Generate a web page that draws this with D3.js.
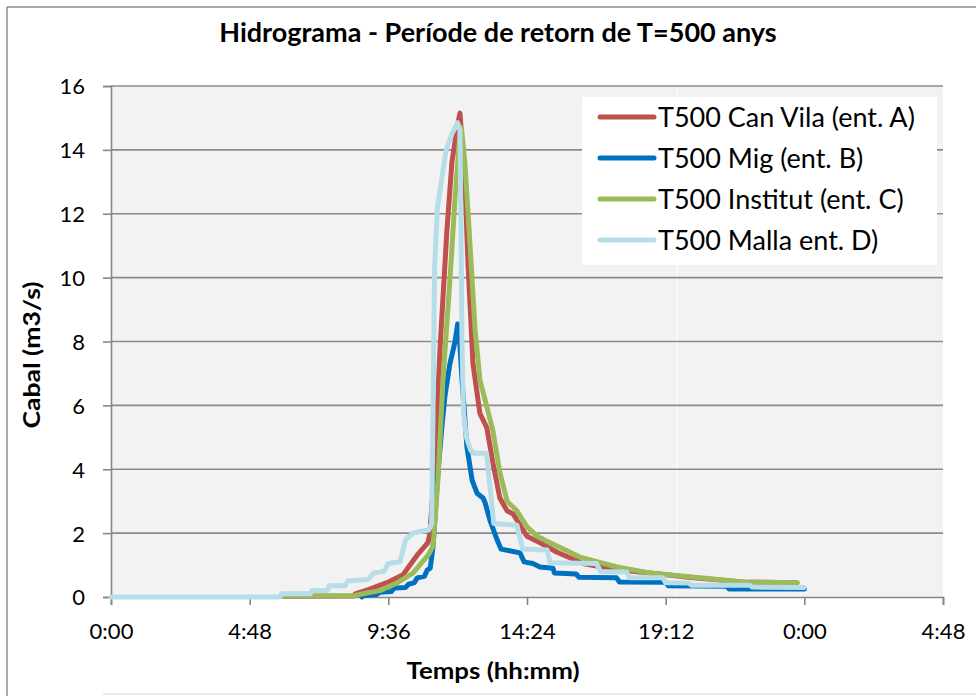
<!DOCTYPE html>
<html><head><meta charset="utf-8">
<script src="https://cdn.jsdelivr.net/npm/d3@7"></script>
<style>body{margin:0;background:#fff}svg{display:block;font-family:Lato,"Open Sans",sans-serif}</style>
</head><body><svg id="c" width="976" height="696"></svg>
<script>
// Data (time in hours, flow in m3/s)
const seriesNames = ["T500 Can Vila (ent. A)", "T500 Mig (ent. B)", "T500 Institut (ent. C)", "T500 Malla ent. D)"];
const seriesColors = ["#c0504d", "#0070c0", "#9bbb59", "#b7dde8"];
const xTickValues = [0, 4.8, 9.6, 14.4, 19.2, 24, 28.8];
const xTickLabels = ["0:00", "4:48", "9:36", "14:24", "19:12", "0:00", "4:48"];
const yTickValues = [0, 2, 4, 6, 8, 10, 12, 14, 16];

const canVila = [[5.9,0.02],[8.4,0.03],[8.45,0.1],[8.96,0.25],[9.55,0.45],[10.11,0.7],[10.59,1.3],[10.97,1.7],[11.04,2.0],[11.21,4.2],[11.39,7.8],[11.63,11.5],[11.8,13.6],[11.98,14.7],[12.08,15.15],[12.25,13.0],[12.36,10.4],[12.53,7.3],[12.77,5.75],[13.01,5.3],[13.22,4.2],[13.46,3.1],[13.71,2.7],[13.92,2.6],[14.4,1.9],[14.85,1.7],[15.44,1.4],[16.34,1.05],[17.51,0.85],[18.66,0.75],[20.15,0.6],[21.88,0.47],[23.75,0.45]];
const mig = [[8.69,0],[8.75,0.05],[9.2,0.08],[9.3,0.15],[9.7,0.17],[9.8,0.28],[10.2,0.3],[10.3,0.4],[10.5,0.45],[10.6,0.6],[10.85,0.65],[10.95,0.85],[11.05,0.9],[11.15,1.6],[11.3,3.7],[11.45,5.3],[11.56,6.3],[11.73,7.3],[11.91,8.0],[12.0,8.55],[12.05,8.3],[12.15,6.8],[12.32,4.7],[12.5,3.66],[12.67,3.25],[12.88,3.1],[12.95,2.95],[13.12,2.4],[13.36,1.8],[13.5,1.5],[13.8,1.45],[14.16,1.38],[14.3,1.1],[14.6,1.05],[14.85,0.94],[15.3,0.9],[15.35,0.75],[16.1,0.72],[16.2,0.62],[17.5,0.6],[17.6,0.47],[19.2,0.46],[19.3,0.35],[21.3,0.34],[21.4,0.25],[24.0,0.25]];
const institut = [[5.92,0.03],[8.45,0.05],[8.72,0.1],[9.31,0.2],[9.9,0.44],[10.45,0.75],[10.97,1.3],[11.15,1.6],[11.32,3.7],[11.49,6.8],[11.73,9.9],[11.91,12.5],[12.08,14.5],[12.13,14.7],[12.25,13.6],[12.43,11.0],[12.6,8.4],[12.77,6.8],[13.01,5.95],[13.22,5.2],[13.46,3.9],[13.71,3.0],[14.05,2.7],[14.4,2.2],[14.75,1.9],[15.2,1.7],[16.23,1.25],[17.51,0.94],[18.66,0.75],[20.39,0.6],[21.88,0.47],[23.75,0.45]];
const malla = [[0,0],[5.85,0],[5.9,0.1],[6.9,0.1],[6.95,0.2],[7.5,0.2],[7.55,0.35],[8.1,0.35],[8.2,0.5],[8.9,0.55],[9.1,0.75],[9.45,0.8],[9.6,1.05],[10.0,1.1],[10.2,1.8],[10.45,2.0],[10.7,2.05],[11.0,2.1],[11.1,2.3],[11.15,6],[11.2,10.3],[11.3,12.2],[11.45,13.1],[11.6,14.0],[11.8,14.5],[12.0,14.85],[12.08,14.6],[12.12,11],[12.15,8],[12.2,5.8],[12.3,5.0],[12.45,4.6],[12.55,4.5],[13.0,4.5],[13.25,2.3],[14.05,2.25],[14.25,1.5],[15.1,1.47],[15.2,1.07],[16.8,1.05],[16.95,0.8],[17.85,0.78],[17.95,0.6],[19.1,0.6],[19.2,0.45],[20.0,0.44],[20.1,0.37],[22.1,0.37],[22.2,0.31],[24.0,0.3]];
const seriesData = [canVila, mig, institut, malla];

const svg = d3.select("#c");
const L = 111, R = 943, T = 86, B = 597;
const x = d3.scaleLinear().domain([0, 28.8]).range([L, R]);
const y = d3.scaleLinear().domain([0, 16]).range([B, T]);

// outer frame
svg.append("line").attr("x1",7).attr("x2",7).attr("y1",7).attr("y2",696).attr("stroke","#8c8c8c").attr("stroke-width",1.5);
svg.append("line").attr("x1",7).attr("x2",976).attr("y1",7).attr("y2",7).attr("stroke","#8c8c8c").attr("stroke-width",1.5);
svg.append("line").attr("x1",103).attr("x2",976).attr("y1",694).attr("y2",694).attr("stroke","#e4e4e4").attr("stroke-width",1.5);

// plot background
svg.append("rect").attr("x",L).attr("y",T).attr("width",R-L).attr("height",B-T).attr("fill","#f2f2f2");
svg.append("line").attr("x1",677).attr("x2",677).attr("y1",T).attr("y2",B).attr("stroke","#ffffff").attr("stroke-width",1);

// gridlines
svg.append("g").selectAll("line").data(yTickValues.filter(d=>d>0)).join("line")
  .attr("x1",L).attr("x2",R).attr("y1",d=>y(d)).attr("y2",d=>y(d))
  .attr("stroke","#8a8a8a").attr("stroke-width",1.6);

// axes
const xAxis = svg.append("g").attr("transform",`translate(0,${B})`)
  .call(d3.axisBottom(x).tickValues(xTickValues).tickFormat((d,i)=>xTickLabels[i]).tickSize(8));
const yAxis = svg.append("g").attr("transform",`translate(${L},0)`)
  .call(d3.axisLeft(y).tickValues(yTickValues).tickSize(8).tickPadding(18));
[xAxis,yAxis].forEach(a=>{
  a.selectAll("path,line").attr("stroke","#868686").attr("stroke-width",1.6);
  a.selectAll("text").attr("fill","#000").attr("font-size",22).attr("font-family","Lato, sans-serif");
});
xAxis.selectAll("text").attr("y",42).attr("dy",null);
yAxis.selectAll("text").attr("dy","0.36em");

// series
const line = d3.line().x(d=>x(d[0])).y(d=>y(d[1])).curve(d3.curveLinear);
svg.append("g").selectAll("path").data(seriesData).join("path")
  .attr("d",line).attr("fill","none")
  .attr("stroke",(d,i)=>seriesColors[i]).attr("stroke-width",5)
  .attr("stroke-linejoin","round").attr("stroke-linecap","round");

// title & axis labels
svg.append("text").attr("x",498).attr("y",42).attr("text-anchor","middle")
  .attr("font-size",27).attr("font-weight","bold").text("Hidrograma - Període de retorn de T=500 anys");
svg.append("text").attr("transform","translate(40,355) rotate(-90)").attr("text-anchor","middle")
  .attr("font-size",22).attr("font-weight","bold").attr("textLength",147).attr("lengthAdjust","spacingAndGlyphs")
  .text("Cabal (m3/s)");
svg.append("text").attr("x",493).attr("y",679).attr("text-anchor","middle")
  .attr("font-size",22).attr("font-weight","bold").attr("textLength",173).attr("lengthAdjust","spacingAndGlyphs")
  .text("Temps (hh:mm)");

// legend
const lg = svg.append("g");
lg.append("rect").attr("x",582).attr("y",97).attr("width",355).attr("height",168).attr("fill","#fff");
const rows = lg.selectAll("g").data(seriesNames).join("g")
  .attr("transform",(d,i)=>`translate(0,${127+i*41})`);
rows.append("line").attr("x1",600).attr("x2",654).attr("y1",-10).attr("y2",-10)
  .attr("stroke",(d,i)=>seriesColors[i]).attr("stroke-width",5).attr("stroke-linecap","round");
rows.append("text").attr("x",658).attr("y",0).attr("font-size",27).text(d=>d);
</script></body></html>
